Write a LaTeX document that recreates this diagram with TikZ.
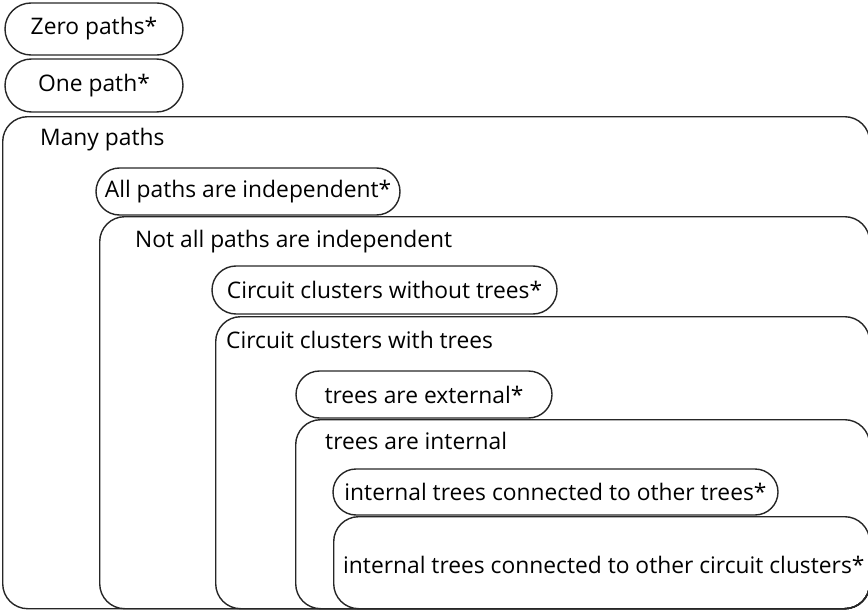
\documentclass[tikz,border=0pt]{standalone}
\usepackage{fontspec}
\setmainfont{Open Sans}
\usetikzlibrary{shapes.misc}
\begin{document}
\begin{tikzpicture}[x=1pt,y=-1pt,
  every node/.style={font=\fontsize{22.8}{26}\selectfont},
  boxline/.style={draw=black!85, line width=1.4pt},
  pill/.style={boxline, rounded rectangle, anchor=center, inner sep=0pt},
  bigbox/.style={boxline, rectangle, anchor=north west, inner sep=0pt, rounded corners=25pt},
  lbl/.style={anchor=west, inner sep=0pt}]
\useasboundingbox (0,0) rectangle (868,610);
\node[pill, minimum width=178pt, minimum height=52pt] (zero) at (94,29) {Zero paths*};
\node[pill, minimum width=178pt, minimum height=53pt] (one) at (94,85.5) {One path*};
\node[bigbox, minimum width=867pt, minimum height=492pt] (many) at (2,116) {};
\node[lbl] (manyl) at (40,140) {Many paths};
\node[pill, minimum width=304pt, minimum height=47pt] (allind) at (248,191.5) {All paths are independent*};
\node[bigbox, minimum width=770pt, minimum height=392pt] (notall) at (99,216) {};
\node[lbl] (notalll) at (135,242) {Not all paths are independent};
\node[pill, minimum width=345pt, minimum height=48pt] (ccwo) at (384.5,290) {Circuit clusters without trees*};
\node[bigbox, minimum width=654pt, minimum height=292pt] (ccw) at (215,316) {};
\node[lbl] (ccwl) at (226,340) {Circuit clusters with trees};
\node[pill, minimum width=256pt, minimum height=47pt] (ext) at (424,394.5) {trees are external*};
\node[bigbox, minimum width=574pt, minimum height=189pt] (int) at (295,419) {};
\node[lbl] (intl) at (325,441) {trees are internal};
\node[pill, minimum width=445pt, minimum height=46pt] (ict) at (555.5,492) {internal trees connected to other trees*};
\node[bigbox, minimum width=536pt, minimum height=92pt] (icc) at (333,516) {};
\node[lbl] (iccl) at (343,565) {internal trees connected to other circuit clusters*};
\end{tikzpicture}
\end{document}
